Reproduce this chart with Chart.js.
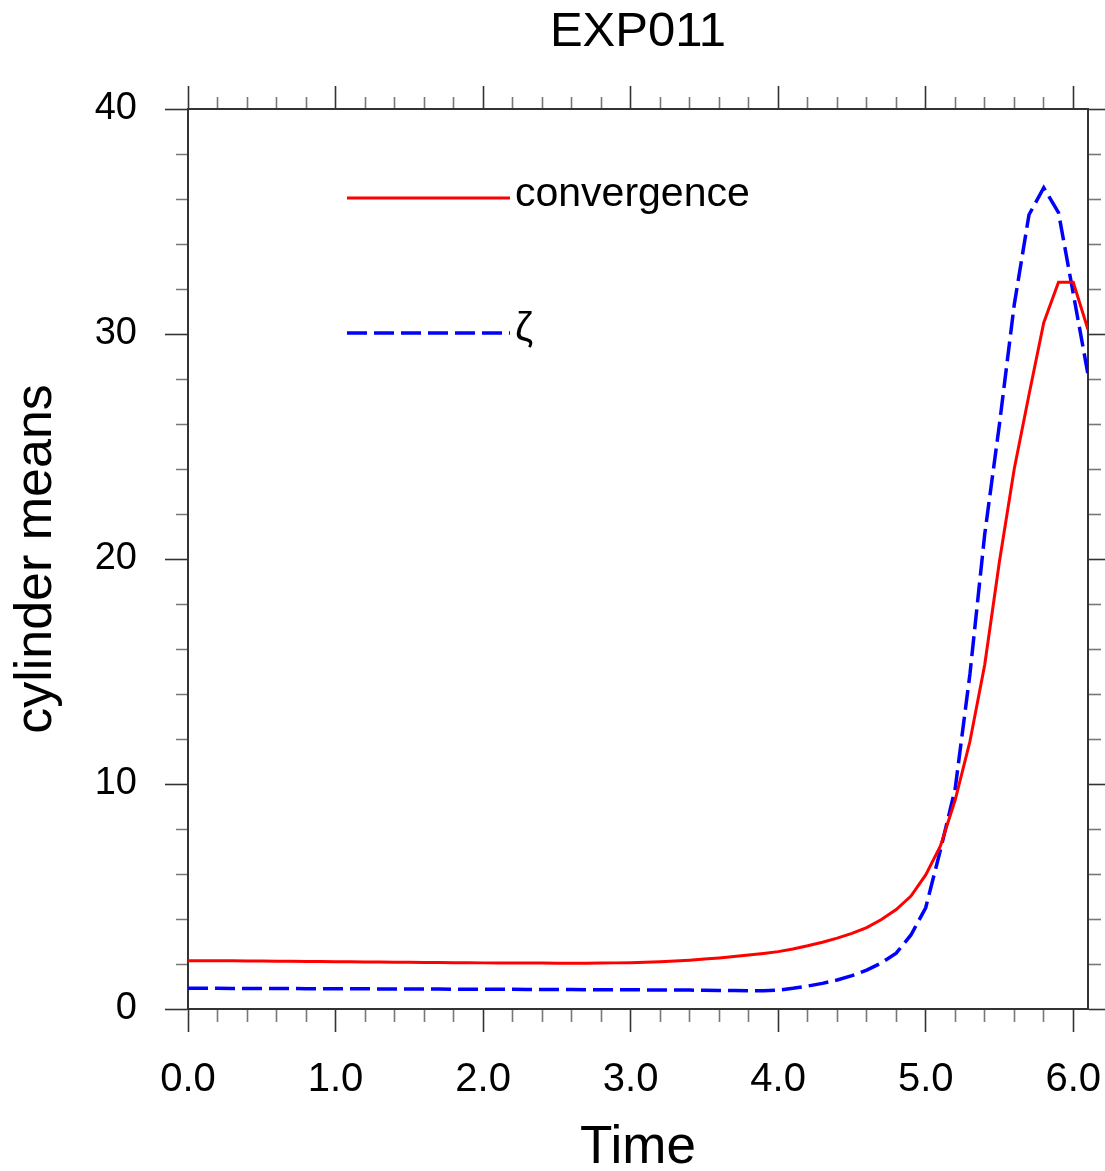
<!DOCTYPE html>
<html>
<head>
<meta charset="utf-8">
<script src="https://cdn.jsdelivr.net/npm/chart.js@4.4.1/dist/chart.umd.min.js"></script>
<style>
  html, body { margin: 0; padding: 0; background: #fff; }
  #wrap { width: 1105px; height: 1171px; }
</style>
</head>
<body>
<div id="wrap"><canvas id="chart" width="1105" height="1171"></canvas></div>
<script>
// Values, one every 0.1 in time
const times = [
    0.0, 0.1, 0.2, 0.3, 0.4, 0.5, 0.6, 0.7, 0.8, 0.9,
    1.0, 1.1, 1.2, 1.3, 1.4, 1.5, 1.6, 1.7, 1.8, 1.9,
    2.0, 2.1, 2.2, 2.3, 2.4, 2.5, 2.6, 2.7, 2.8, 2.9,
    3.0, 3.1, 3.2, 3.3, 3.4, 3.5, 3.6, 3.7, 3.8, 3.9,
    4.0, 4.1, 4.2, 4.3, 4.4, 4.5, 4.6, 4.7, 4.8, 4.9,
    5.0, 5.1, 5.2, 5.3, 5.4, 5.5, 5.6, 5.7, 5.8, 5.9,
    6.0, 6.1
];

const convergence = [
    2.15, 2.15, 2.14, 2.14, 2.13, 2.13, 2.12, 2.12, 2.11, 2.11,
    2.10, 2.10, 2.09, 2.09, 2.08, 2.08, 2.07, 2.07, 2.06, 2.06,
    2.05, 2.05, 2.04, 2.04, 2.04, 2.03, 2.03, 2.03, 2.04, 2.05,
    2.06, 2.08, 2.10, 2.13, 2.17, 2.22, 2.27, 2.33, 2.40, 2.47,
    2.55, 2.67, 2.81, 2.97, 3.15, 3.36, 3.62, 3.98, 4.42, 5.02,
    5.96, 7.25, 9.3, 11.9, 15.3, 19.9, 24.0, 27.3, 30.5, 32.3,
    32.3, 30.2
];

const zeta = [
    0.92, 0.92, 0.92, 0.91, 0.91, 0.91, 0.91, 0.91, 0.90, 0.90,
    0.90, 0.90, 0.90, 0.89, 0.89, 0.89, 0.89, 0.89, 0.88, 0.88,
    0.88, 0.88, 0.88, 0.87, 0.87, 0.87, 0.87, 0.86, 0.86, 0.86,
    0.86, 0.85, 0.85, 0.84, 0.84, 0.83, 0.82, 0.82, 0.81, 0.81,
    0.84, 0.92, 1.02, 1.14, 1.29, 1.48, 1.73, 2.05, 2.48, 3.29,
    4.5, 7.07, 9.8, 14.9, 21.1, 26.0, 31.3, 35.3, 36.5, 35.4,
    31.8, 28.2
];

const xMajorStep = 1;
const xMinorStep = 0.2;
const yMajorStep = 10;
const yMinorStep = 2;

const FONT = "'Liberation Sans', Arial, Helvetica, sans-serif";
const TICK_LEN = 23;
const MINOR_LEN = 12;

function isMajor(v, step) {
    return Math.abs(v / step - Math.round(v / step)) < 1e-6;
}

// minor ticks are drawn shorter by dashing the full-length tick line
// fromAxis: bottom/right ticks are stroked from the axis outwards, top/left the other way
function tickDash(step, fromAxis) {
    return function(ctx) {
        if (!ctx.tick || isMajor(ctx.tick.value, step)) return [];
        return fromAxis ? [MINOR_LEN, 200] : [0, TICK_LEN - MINOR_LEN, MINOR_LEN, 200];
    };
}

function tickColor(step) {
    return ctx => (ctx.tick && isMajor(ctx.tick.value, step)) ? '#333' : '#777';
}

function axisGrid(step, fromAxis) {
    return {
        drawOnChartArea: false,
        drawTicks: true,
        tickLength: TICK_LEN,
        tickWidth: 1.6,
        color: '#777',
        tickColor: tickColor(step),
        tickBorderDash: tickDash(step, fromAxis)
    };
}

const axisBorder = { display: true, color: '#333', width: 2 };

// key drawn inside the plot, like the original
const keyPlugin = {
    id: 'key',
    afterDatasetsDraw(chart) {
        const { ctx, chartArea } = chart;
        const x0 = chartArea.left + 159;
        const x1 = chartArea.left + 322;
        const rows = [chartArea.top + 89, chartArea.top + 224];
        chart.data.datasets.forEach((ds, i) => {
            const y = rows[i];
            ctx.save();
            ctx.strokeStyle = ds.borderColor;
            ctx.lineWidth = ds.borderWidth;
            ctx.setLineDash(ds.borderDash || []);
            ctx.beginPath();
            ctx.moveTo(x0, y);
            ctx.lineTo(x1, y);
            ctx.stroke();
            ctx.setLineDash([]);
            ctx.fillStyle = '#000';
            ctx.font = '41px ' + FONT;
            ctx.textBaseline = 'middle';
            ctx.textAlign = 'left';
            ctx.fillText(ds.label, x1 + 5, y - 3);
            ctx.restore();
        });
    }
};

const ctx = document.getElementById('chart').getContext('2d');
new Chart(ctx, {
    type: 'line',
    data: {
        datasets: [
            {
                label: 'convergence',
                data: times.map((t, i) => ({ x: t, y: convergence[i] })),
                borderColor: '#ff0000',
                borderWidth: 3,
                pointRadius: 0,
                tension: 0,
                fill: false
            },
            {
                label: 'ζ',
                data: times.map((t, i) => ({ x: t, y: zeta[i] })),
                borderColor: '#0000ff',
                borderWidth: 3.5,
                borderDash: [20, 7],
                pointRadius: 0,
                tension: 0,
                fill: false
            }
        ]
    },
    options: {
        responsive: false,
        animation: false,
        devicePixelRatio: 1,
        layout: { padding: 0 },
        plugins: {
            legend: { display: false },
            tooltip: { enabled: false },
            title: {
                display: true,
                fullSize: false,
                text: 'EXP011',
                color: '#000',
                font: { family: FONT, size: 49, weight: 'normal', lineHeight: 1.2 },
                padding: { top: 3, bottom: 0 }
            }
        },
        scales: {
            x: {
                type: 'linear',
                position: 'bottom',
                min: 0,
                max: 6.1,
                afterFit: s => { s.height = 162; s.paddingLeft = 0; s.paddingRight = 0; },
                border: axisBorder,
                grid: axisGrid(xMajorStep, true),
                ticks: {
                    stepSize: xMinorStep,
                    includeBounds: false,
                    autoSkip: false,
                    maxRotation: 0,
                    padding: 24,
                    color: '#000',
                    font: { family: FONT, size: 40 },
                    callback: v => isMajor(v, xMajorStep) ? v.toFixed(1) : ''
                },
                title: {
                    display: true,
                    text: 'Time',
                    color: '#000',
                    font: { family: FONT, size: 53, lineHeight: 0.85 },
                    padding: 0
                }
            },
            x2: {
                type: 'linear',
                position: 'top',
                min: 0,
                max: 6.1,
                afterFit: s => { s.height = 109 - (3 + 49 * 1.2); s.paddingLeft = 0; s.paddingRight = 0; },
                border: axisBorder,
                grid: axisGrid(xMajorStep, false),
                ticks: {
                    display: false,
                    stepSize: xMinorStep,
                    includeBounds: false,
                    autoSkip: false
                }
            },
            y: {
                type: 'linear',
                position: 'left',
                min: 0,
                max: 40,
                afterFit: s => { s.width = 188; s.paddingTop = 0; s.paddingBottom = 0; },
                border: axisBorder,
                grid: axisGrid(yMajorStep, false),
                ticks: {
                    stepSize: yMinorStep,
                    includeBounds: false,
                    autoSkip: false,
                    padding: 28,
                    color: '#000',
                    font: { family: FONT, size: 38 },
                    callback: v => isMajor(v, yMajorStep) ? String(v) : ''
                },
                title: {
                    display: true,
                    text: 'cylinder means',
                    color: '#000',
                    font: { family: FONT, size: 52, lineHeight: 1.2 },
                    padding: { top: 5, bottom: 0 }
                }
            },
            y2: {
                type: 'linear',
                position: 'right',
                min: 0,
                max: 40,
                afterFit: s => { s.width = 17; s.paddingTop = 0; s.paddingBottom = 0; },
                border: axisBorder,
                grid: axisGrid(yMajorStep, true),
                ticks: {
                    display: false,
                    stepSize: yMinorStep,
                    includeBounds: false,
                    autoSkip: false
                }
            }
        }
    },
    plugins: [keyPlugin]
});
</script>
</body>
</html>
